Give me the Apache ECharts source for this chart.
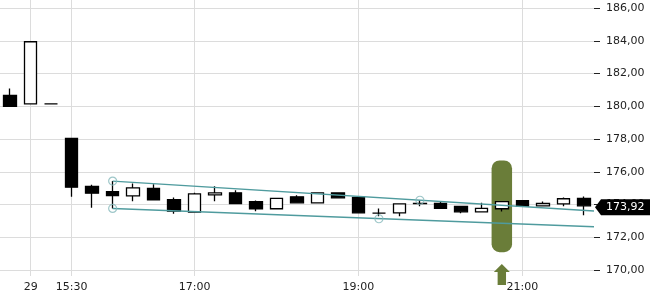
<!DOCTYPE html>
<html>
<head>
<meta charset="utf-8">
<script src="https://cdn.jsdelivr.net/npm/echarts@6/dist/echarts.min.js"></script>
<style>
html,body{margin:0;padding:0;background:#fff;}
#chart{width:650px;height:300px;}
</style>
</head>
<body>
<div id="chart"></div>
<script>
// ---- data ----
const categories = ['28','29','15:15','15:30','15:45','16:00','16:15','16:30','16:45','17:00',
  '17:15','17:30','17:45','18:00','18:15','18:30','18:45','19:00','19:15','19:30',
  '19:45','20:00','20:15','20:30','20:45','21:00','21:15','21:30','21:45'];
const shownLabels = ['29','15:30','17:00','19:00','21:00'];
const opens  = [180.66,180.15,180.15,178.03,175.10,174.79,174.53,174.98,174.29,173.53,
  174.59,174.71,174.18,173.74,174.47,174.10,174.71,174.43,173.47,173.49,
  174.05,174.06,173.88,173.55,173.74,174.24,173.92,174.04,174.37];
const closes = [180.00,183.94,180.15,175.06,174.69,174.55,175.02,174.29,173.59,174.65,
  174.71,174.06,173.74,174.38,174.10,174.71,174.41,173.49,173.47,174.04,
  174.07,173.77,173.55,173.76,174.18,173.90,174.06,174.35,173.92];
const lows   = [180.00,180.15,180.15,174.47,173.80,173.76,174.20,174.29,173.43,173.53,
  174.20,174.06,173.59,173.74,174.10,174.10,174.41,173.49,173.29,173.29,
  173.90,173.77,173.47,173.55,173.57,173.84,173.92,173.90,173.35];
const highs  = [181.08,183.94,180.15,178.07,175.20,175.43,175.28,175.24,174.43,174.71,
  175.12,174.87,174.24,174.38,174.57,174.71,174.71,174.43,173.76,174.04,
  174.26,174.18,173.88,174.10,174.18,174.24,174.18,174.43,174.49];
const yTicks = [170,172,174,176,178,180,182,184,186];
const trendUpper = [[5,175.43],[28.5,173.60]];
const trendLower = [[5,173.76],[28.5,172.64]];
const touchPoints = [[5,175.43],[5,173.76],[18,173.13],[20,174.26]];
const signalIndex = 24;
const highlightRange = [171.09,176.69];
const lastPrice = 173.92;

// ---- build ----
const candleData = opens.map((o,i)=>[o, closes[i], lows[i], highs[i]]);
const fmt = v => v.toFixed(2).replace('.', ',');
const isShown = (idx) => shownLabels.indexOf(categories[idx]) >= 0;
const FONT = 'DejaVu Sans';

const chart = echarts.init(document.getElementById('chart'), null, {renderer:'canvas'});
const option = {
  animation: false,
  backgroundColor: '#fff',
  grid: [
    {left: 0, right: 56, top: 8, bottom: 30},
    {left: 0, right: 56, top: 0, bottom: 24}
  ],
  xAxis: [
    {type:'category', gridIndex:0, data: categories, boundaryGap:true,
     axisLine:{show:false, onZero:false}, axisTick:{show:false}, axisLabel:{show:false}, splitLine:{show:false}},
    {type:'category', gridIndex:1, data: categories, boundaryGap:true,
     axisLine:{show:false, onZero:false}, axisTick:{show:false},
     axisLabel:{show:true, interval:(i)=>isShown(i), margin:6, color:'#222', fontFamily:FONT, fontSize:11},
     splitLine:{show:false}},
    {type:'value', gridIndex:0, min:-0.5, max:categories.length-0.5, show:false,
     axisLine:{onZero:false}},
    {type:'category', gridIndex:1, data: categories, boundaryGap:true, offset:19,
     axisLine:{show:false, onZero:false},
     axisTick:{show:true, alignWithLabel:true, interval:(i)=>isShown(i), length:4, lineStyle:{color:'#222', width:1}},
     axisLabel:{show:false}, splitLine:{show:false}}
  ],
  yAxis: [
    {type:'value', gridIndex:0, position:'right', min:yTicks[0], max:yTicks[yTicks.length-1], interval:2,
     axisLine:{show:false, onZero:false},
     axisTick:{show:true, length:6, lineStyle:{color:'#222', width:1}},
     axisLabel:{margin:12, color:'#222', fontFamily:FONT, fontSize:11, formatter: fmt},
     splitLine:{show:true, lineStyle:{color:'#dcdcdc', width:1}}},
    {type:'value', gridIndex:1, min:0, max:1, show:false, axisLine:{onZero:false}}
  ],
  series: [
    {
      type:'line', xAxisIndex:1, yAxisIndex:1, data:[], z:1, silent:true,
      markLine:{silent:true, z:1, symbol:['none','none'], label:{show:false},
        lineStyle:{color:'#dcdcdc', type:'solid', width:1},
        data: shownLabels.map(l=>({xAxis:l}))}
    },
    {
      type:'custom', xAxisIndex:0, yAxisIndex:0, z:2, silent:true, clip:false,
      data:[[signalIndex, highlightRange[0], highlightRange[1]]],
      renderItem:(params, api)=>{
        const bot = api.coord([api.value(0), api.value(1)]);
        const top = api.coord([api.value(0), api.value(2)]);
        const w = api.size([1,0])[0];
        const base = api.coord([api.value(0), yTicks[0]]);
        const cx = bot[0];
        const at = base[1] - 6;
        return {type:'group', children:[
          {type:'rect', shape:{x:cx - w/2, y:top[1], width:w, height:bot[1]-top[1], r:8},
           style:{fill:'#6a7d39'}},
          {type:'polygon', shape:{points:[[cx,at],[cx+8,at+8],[cx+4.2,at+8],[cx+4.2,at+21],
            [cx-4.2,at+21],[cx-4.2,at+8],[cx-8,at+8]]}, style:{fill:'#6a7d39'}}
        ]};
      }
    },
    {
      type:'candlestick', xAxisIndex:0, yAxisIndex:0, z:3, data: candleData, barWidth:13,
      itemStyle:{color:'#ffffff', color0:'#000000', borderColor:'#000000', borderColor0:'#000000',
        borderColorDoji:'#000000', borderWidth:1.3}
    },
    {
      type:'line', xAxisIndex:2, yAxisIndex:0, z:4, data: trendUpper, symbol:'none',
      lineStyle:{color:'#4f9b9e', width:1.4}
    },
    {
      type:'line', xAxisIndex:2, yAxisIndex:0, z:4, data: trendLower, symbol:'none',
      lineStyle:{color:'#4f9b9e', width:1.4}
    },
    {
      type:'scatter', xAxisIndex:2, yAxisIndex:0, z:5, data: touchPoints, symbol:'circle', symbolSize:8,
      itemStyle:{color:'rgba(0,0,0,0)', borderColor:'#86b9bc', borderWidth:1.2}
    },
    {
      type:'custom', xAxisIndex:0, yAxisIndex:0, z:6, silent:true, clip:false,
      data:[[categories.length-1, lastPrice]],
      renderItem:(params, api)=>{
        const p = api.coord([api.value(0), api.value(1)]);
        const w = api.size([1,0])[0];
        const x0 = p[0] + w/2 + 1;
        const y = p[1] + 1.5;
        const h = 8;
        return {type:'group', children:[
          {type:'polygon', shape:{points:[[x0,y],[x0+6,y-h],[660,y-h],[660,y+h],[x0+6,y+h]]},
           style:{fill:'#000'}},
          {type:'text', x: x0+11, y: y, style:{text: fmt(api.value(1)), fill:'#fff',
            font:'11px "DejaVu Sans"', textAlign:'left', textVerticalAlign:'middle'}}
        ]};
      }
    }
  ]
};
chart.setOption(option);
</script>
</body>
</html>
